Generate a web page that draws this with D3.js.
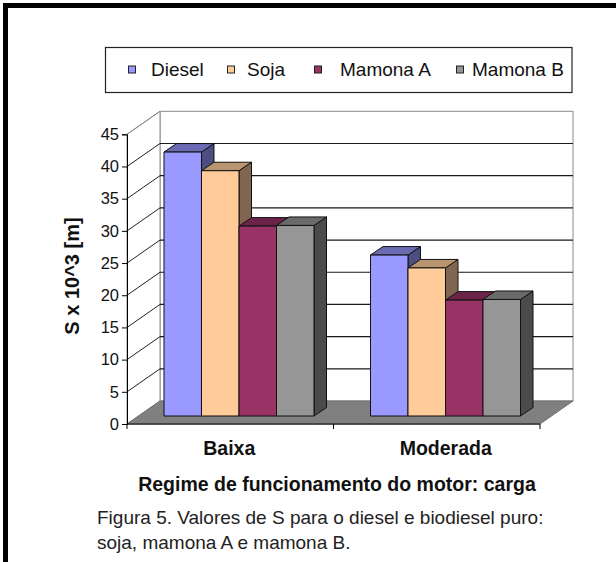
<!DOCTYPE html>
<html><head><meta charset="utf-8">
<script src="https://cdn.jsdelivr.net/npm/d3@7"></script>
<style>
html,body{margin:0;padding:0;background:#fff;}
svg{display:block;font-family:"Liberation Sans",Arial,sans-serif;}
</style></head>
<body>
<svg id="chart" width="616" height="562"></svg>
<script>
// ---- data ----
const categories = ["Baixa", "Moderada"];
const seriesNames = ["Diesel", "Soja", "Mamona A", "Mamona B"];
const dieselValues  = [41.0, 25.0];
const sojaValues    = [38.1, 23.0];
const mamonaAValues = [29.5, 18.0];
const mamonaBValues = [29.6, 18.1];
const yTickValues = [0, 5, 10, 15, 20, 25, 30, 35, 40, 45];
const yAxisTitle = "S x 10^3 [m]";
const xAxisTitle = "Regime de funcionamento do motor: carga";
const captionLines = ["Figura 5. Valores de S para o diesel e biodiesel puro:", "soja, mamona A e mamona B."];

// ---- styles ----
const frontColors = ["#9999FF", "#FFCC99", "#993366", "#969696"];
const topColors   = ["#6B6BB3", "#B8946F", "#6B2447", "#6A6A6A"];
const sideColors  = ["#4D4D80", "#806650", "#4D1A33", "#4B4B4B"];
const legendMarkerX = [132, 231, 318, 460];
const legendTextX   = [151, 247, 340, 472];

const seriesValues = [dieselValues, sojaValues, mamonaAValues, mamonaBValues];
const table = categories.map((c, i) => ({cat: c, vals: seriesNames.map((s, j) => ({s, j, v: seriesValues[j][i]}))}));

const svg = d3.select("#chart");

// frame (left and top)
svg.append("rect").attr("x", 3).attr("y", 3).attr("width", 616).attr("height", 5).attr("fill", "#000");
svg.append("rect").attr("x", 3).attr("y", 3).attr("width", 5).attr("height", 562).attr("fill", "#000");

// geometry
const x0 = 127, x1 = 540;
const DX = 33, DY = -23;     // wall depth
const y = d3.scaleLinear().domain([0, 45]).range([424, 134.3]);
const xCat = d3.scaleBand().domain(categories).range([x0, x1]);
const xSer = d3.scaleBand().domain(seriesNames).range([0, xCat.bandwidth()]).paddingInner(0).paddingOuter(0.753);
const barShiftX = 8.75, barShiftY = -8;
const bdx = 12.5, bdy = -8.5;

const g = svg.append("g");

// back wall
g.append("rect").attr("x", x0 + DX).attr("y", y(45) + DY).attr("width", x1 - x0).attr("height", y(0) - y(45))
  .attr("fill", "#fff").attr("stroke", "#8a8a8a").attr("stroke-width", 1);
// left side wall
g.append("path").attr("d", `M${x0},${y(0)}L${x0},${y(45)}L${x0+DX},${y(45)+DY}L${x0+DX},${y(0)+DY}Z`)
  .attr("fill", "#fff").attr("stroke", "#8a8a8a").attr("stroke-width", 1);

// gridlines
yTickValues.filter(v => v > 0 && v < 45).forEach(v => {
  g.append("line").attr("x1", x0 + DX).attr("x2", x1 + DX).attr("y1", y(v) + DY).attr("y2", y(v) + DY)
    .attr("stroke", "#1a1a1a").attr("stroke-width", 1.2);
});
yTickValues.filter(v => v > 0).forEach(v => {
  g.append("line").attr("x1", x0).attr("y1", y(v)).attr("x2", x0 + DX).attr("y2", y(v) + DY)
    .attr("stroke", v === 45 ? "#8a8a8a" : "#222").attr("stroke-width", 1);
});

// floor
g.append("path").attr("d", `M${x0},${y(0)}L${x1},${y(0)}L${x1+DX},${y(0)+DY}L${x0+DX},${y(0)+DY}Z`)
  .attr("fill", "#808080").attr("stroke", "#707070").attr("stroke-width", 1);
g.append("line").attr("x1", x0).attr("x2", x1).attr("y1", y(0)).attr("y2", y(0)).attr("stroke", "#333").attr("stroke-width", 1.5);

// y axis
const yAxis = d3.axisLeft(y).tickValues(yTickValues).tickSize(5).tickPadding(3);
const ya = svg.append("g").attr("transform", `translate(${x0},0)`).call(yAxis);
ya.select(".domain").attr("stroke", "#000");
ya.selectAll(".tick line").attr("stroke", "#000");
ya.selectAll(".tick text").attr("font-size", 16.5).attr("fill", "#111").attr("font-family", "Liberation Sans, Arial, sans-serif");

// x ticks
[x0, x0 + xCat.bandwidth(), x1].forEach(t => {
  svg.append("line").attr("x1", t).attr("x2", t).attr("y1", y(0)).attr("y2", y(0) + 5).attr("stroke", "#000");
});

// bars
table.forEach(row => {
  row.vals.forEach(d => {
    const bx = xCat(row.cat) + xSer(d.s) + barShiftX;
    const w = xSer.bandwidth();
    const yb = y(0) + barShiftY, yt = y(d.v) + barShiftY;
    const bg = g.append("g").attr("stroke", "#111").attr("stroke-width", 1).attr("stroke-linejoin", "round");
    // side
    bg.append("path").attr("d", `M${bx+w},${yb}L${bx+w},${yt}L${bx+w+bdx},${yt+bdy}L${bx+w+bdx},${yb+bdy}Z`).attr("fill", sideColors[d.j]);
    // top
    bg.append("path").attr("d", `M${bx},${yt}L${bx+w},${yt}L${bx+w+bdx},${yt+bdy}L${bx+bdx},${yt+bdy}Z`).attr("fill", topColors[d.j]);
    // front
    bg.append("rect").attr("x", bx).attr("y", yt).attr("width", w).attr("height", yb - yt).attr("fill", frontColors[d.j]);
  });
});

// category labels
svg.selectAll("text.cat").data(categories).enter().append("text").attr("class", "cat")
  .attr("x", (d, i) => xCat(d) + xCat.bandwidth() / 2 + (i === 0 ? -1 : 9)).attr("y", 455)
  .attr("text-anchor", "middle").attr("font-weight", "bold").attr("font-size", 19.5).attr("fill", "#111").text(d => d);

// x title
svg.append("text").attr("x", 337).attr("y", 491).attr("text-anchor", "middle").attr("font-weight", "bold")
  .attr("font-size", 19.5).attr("fill", "#111").text(xAxisTitle);

// y title
svg.append("text").attr("transform", "translate(79,276) rotate(-90)").attr("text-anchor", "middle")
  .attr("font-weight", "bold").attr("font-size", 20).attr("fill", "#111").text(yAxisTitle);

// caption
svg.selectAll("text.cap").data(captionLines).enter().append("text").attr("class", "cap")
  .attr("x", 97).attr("y", (d, i) => 524 + i * 25).attr("font-size", 19).attr("fill", "#222").text(d => d);

// legend
svg.append("rect").attr("x", 105.5).attr("y", 47.5).attr("width", 466.5).attr("height", 45)
  .attr("fill", "#fff").attr("stroke", "#222").attr("stroke-width", 1.2);
const lg = svg.selectAll("g.leg").data(seriesNames).enter().append("g").attr("class", "leg");
lg.append("rect").attr("x", (d, i) => legendMarkerX[i] - 3.5).attr("y", 66).attr("width", 7).attr("height", 7)
  .attr("fill", (d, i) => frontColors[i]).attr("stroke", "#222").attr("stroke-width", 1);
lg.append("text").attr("x", (d, i) => legendTextX[i]).attr("y", 76).attr("font-size", 19).attr("fill", "#111").text(d => d);
</script>
</body></html>
